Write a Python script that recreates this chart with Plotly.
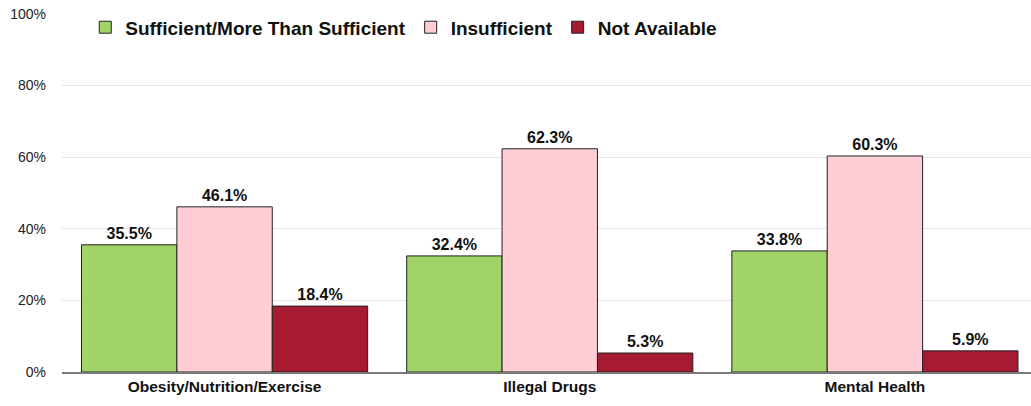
import plotly.graph_objects as go

categories = ["Obesity/Nutrition/Exercise", "Illegal Drugs", "Mental Health"]
sufficient = [35.5, 32.4, 33.8]
insufficient = [46.1, 62.3, 60.3]
not_available = [18.4, 5.3, 5.9]
series_names = ["Sufficient/More Than Sufficient", "Insufficient", "Not Available"]
colors = ["#A0D468", "#FFCDD6", "#A61A32"]
y_ticks = [0, 20, 40, 60, 80, 100]

FONT = "Arial, Liberation Sans"

fig = go.Figure()
for name, vals, col in zip(series_names, [sufficient, insufficient, not_available], colors):
    fig.add_trace(go.Bar(
        x=categories, y=vals, name=f"<b>{name}</b>",
        marker=dict(color=col, line=dict(color="#222222", width=1)),
        text=[f"{v:.1f}%" for v in vals], textposition="outside",
        texttemplate="<b>%{text}</b>",
        textfont=dict(family=FONT, size=16, color="#111111"),
        cliponaxis=False,
    ))

fig.update_layout(
    width=1031, height=406,
    margin=dict(l=62, r=0, t=13, b=34),
    plot_bgcolor="white", paper_bgcolor="white",
    barmode="group", bargap=0.12, bargroupgap=0,
    font=dict(family=FONT, color="#222222"),
    legend=dict(orientation="h", x=0.024, y=0.96, xanchor="left", yanchor="middle",
                font=dict(size=19, color="#111111", family=FONT),
                bgcolor="rgba(0,0,0,0)", traceorder="normal"),
    showlegend=True,
)
fig.update_xaxes(range=[-0.5, 2.48], showline=True, linecolor="#7a7a7a", linewidth=1.5,
                 tickvals=categories, ticktext=[f"<b>{c}</b>" for c in categories],
                 tickfont=dict(size=15.5, color="#111111", family=FONT),
                 ticks="", showgrid=False, automargin=False)
fig.update_yaxes(range=[0, 100.2], tickvals=y_ticks, ticktext=[f"{t}%" for t in y_ticks],
                 showgrid=True, gridcolor="#E6E6E6", gridwidth=1, zeroline=False,
                 tickfont=dict(size=14, color="#222222", family=FONT), ticks="",
                 ticklabelstandoff=15, automargin=False)

fig.write_html("out.html", config={"displayModeBar": False},
               post_script="document.body.style.margin='0';")
